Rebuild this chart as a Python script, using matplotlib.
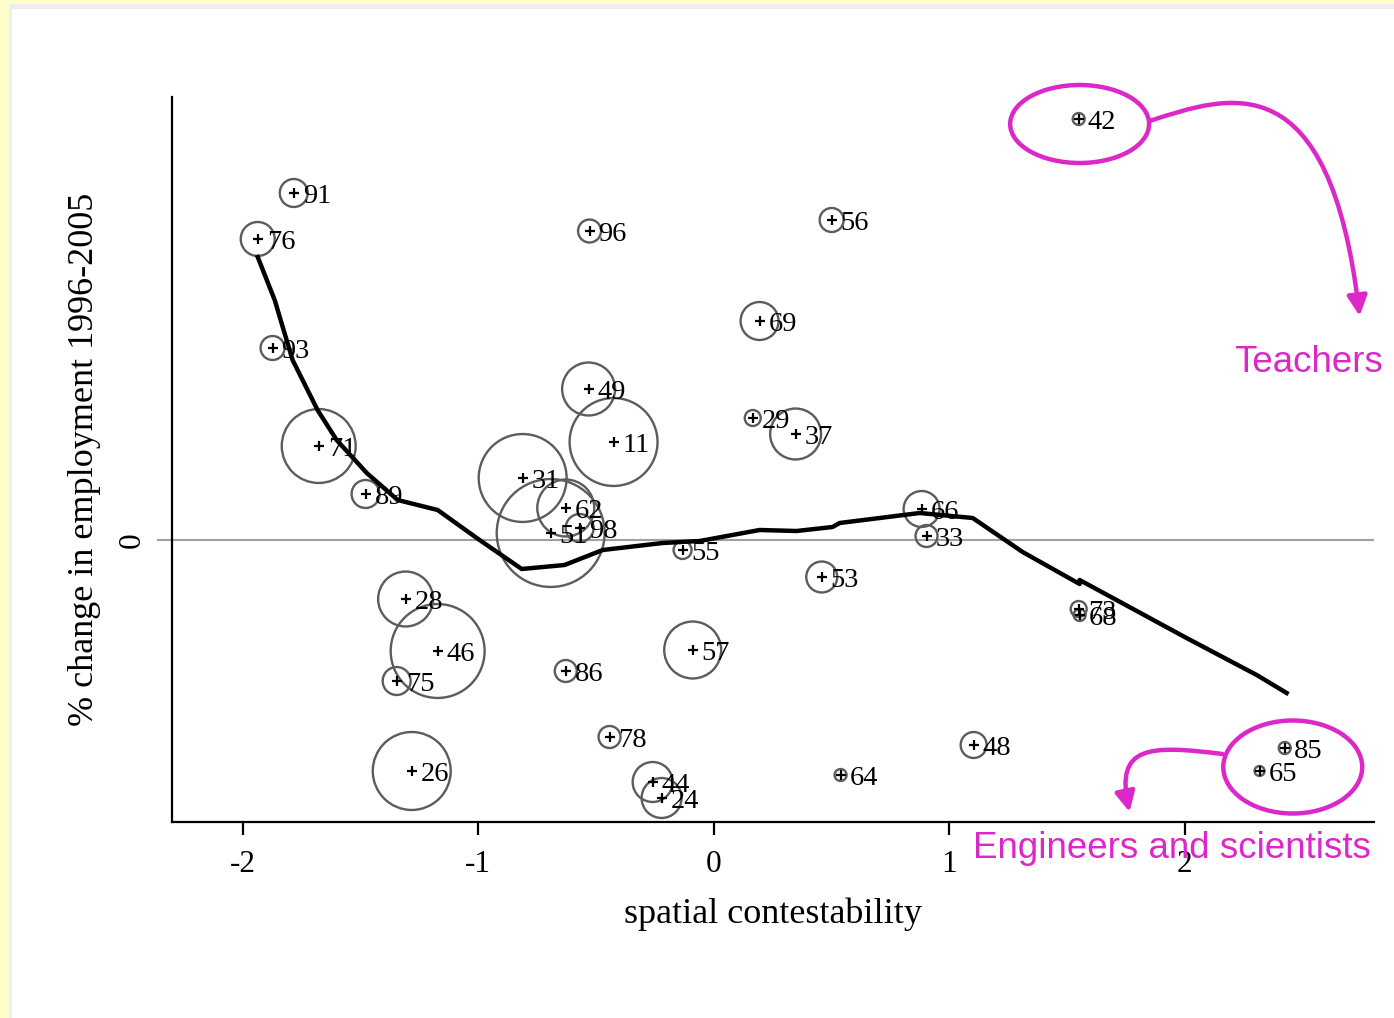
import numpy as np
import matplotlib.pyplot as plt
from matplotlib.patches import Ellipse, Rectangle, FancyArrowPatch
from matplotlib.path import Path

# occupation codes, spatial contestability, % change in employment, employment weight
codes = ['91', '76', '93', '71', '89', '96', '69', '49', '11', '31', '62', '98',
         '51', '55', '29', '37', '56', '66', '33', '42', '53', '57', '86', '78',
         '44', '24', '64', '48', '28', '46', '75', '26', '73', '68', '85', '65']
contest = [-1.783, -1.936, -1.873, -1.677, -1.478, -0.527, 0.195, -0.531, -0.425,
           -0.811, -0.628, -0.569, -0.692, -0.132, 0.166, 0.348, 0.501, 0.883,
           0.904, 1.550, 0.459, -0.089, -0.628, -0.442, -0.259, -0.221, 0.539,
           1.104, -1.308, -1.172, -1.346, -1.282, 1.550, 1.554, 2.425, 2.318]
change = [86.75, 75.25, 48.0, 23.5, 11.5, 77.25, 54.75, 37.75, 24.5, 15.5, 8.0,
          3.0, 1.75, -2.5, 30.5, 26.5, 80.0, 7.75, 1.0, 105.25, -9.25, -27.5,
          -32.75, -49.25, -60.5, -64.5, -58.75, -51.25, -14.75, -27.75, -35.25,
          -57.75, -17.25, -18.75, -52.0, -57.75]
weight = [19.6, 28.9, 14.4, 136.9, 19.6, 13.2, 36.1, 70.2, 193.6, 193.6, 81.2,
          19.6, 291.6, 8.1, 6.4, 65.0, 14.4, 32.4, 12.1, 3.6, 24.0, 81.2, 12.1,
          12.1, 40.0, 40.0, 3.6, 16.9, 75.6, 220.9, 19.6, 152.1, 6.4, 3.6, 3.6, 2.5]

# lowess smooth
fit_x = [-1.936, -1.864, -1.788, -1.682, -1.601, -1.473, -1.342, -1.172, -0.994,
         -0.815, -0.633, -0.471, -0.217, -0.059, 0.195, 0.352, 0.505, 0.535,
         0.875, 1.100, 1.312, 1.554, 1.554, 2.008, 2.306, 2.433]
fit_y = [70.75, 60.0, 45.0, 32.5, 25.0, 16.75, 10.0, 7.5, 0.0, -7.25, -6.25,
         -2.5, -0.75, -0.25, 2.5, 2.25, 3.25, 4.25, 6.75, 5.5, -3.0, -11.0,
         -10.0, -24.5, -33.75, -38.25]

xticks = [-2, -1, 0, 1, 2]
xtick_labels = ['-2', '-1', '0', '1', '2']

serif = 'Liberation Serif'
sans = 'Liberation Sans'
pink = '#dc28c8'

fig = plt.figure(figsize=(13.94, 10.18), dpi=100, facecolor='#ffffcc')
# slide frame
fig.patches.append(Rectangle((9 / 1394, 0), 1, 1 - 4 / 1018, transform=fig.transFigure,
                             facecolor='#eeeeee', edgecolor='none', zorder=-2))
fig.patches.append(Rectangle((12 / 1394, 0), 1, 1 - 9 / 1018, transform=fig.transFigure,
                             facecolor='white', edgecolor='none', zorder=-1))

ax = fig.add_axes([172 / 1394, 1 - 822 / 1018, 1202 / 1394, 725 / 1018])
ax.set_facecolor('none')
ax.set_xlim(-2.30, 2.804)
ax.set_ylim(-70.5, 110.75)

ax.axhline(0, color='#a0a0a0', lw=1.5, zorder=1)

ax.scatter(contest, change, s=np.array(weight) * 20.7, facecolors='none',
           edgecolors='#5c5c5c', linewidths=1.7, zorder=2)
ax.scatter(contest, change, s=45, marker='+', color='black', linewidths=1.6, zorder=3)
for c, xv, yv in zip(codes, contest, change):
    ax.annotate(c, (xv, yv), xytext=(6.5, -7.3), textcoords='offset points',
                ha='left', va='baseline', fontsize=20.5, family=serif, zorder=4)

ax.plot(fit_x, fit_y, color='black', lw=3.2, zorder=3, solid_joinstyle='round')

for s in ['top', 'right']:
    ax.spines[s].set_visible(False)
for s in ['left', 'bottom']:
    ax.spines[s].set_linewidth(1.6)

ax.set_xticks(xticks)
ax.set_xticklabels(xtick_labels, family=serif, fontsize=22.5)
ax.set_yticks([0])
ax.set_yticklabels(['0'], family=serif, fontsize=22.5, rotation=90, va='center')
ax.tick_params(axis='x', length=9, width=1.6, pad=11)
ax.tick_params(axis='y', length=11, width=1.5, color='#a0a0a0', pad=7)

ax.set_xlabel('spatial contestability', family=serif, fontsize=26)
ax.set_ylabel('% change in employment 1996-2005', family=serif, fontsize=26)
ax.xaxis.set_label_coords(0.5, -0.104)
ax.yaxis.set_label_coords(-0.059, 0.5)

# annotations
ax.add_patch(Ellipse((1.554, 104.0), 0.590, 19.5, fill=False, edgecolor=pink,
                     lw=3.2, clip_on=False, zorder=5))
ax.add_patch(Ellipse((2.459, -56.75), 0.590, 23.25, fill=False, edgecolor=pink,
                     lw=3.2, clip_on=False, zorder=5))

teach_path = Path([(1.851, 104.75), (2.191, 111.25), (2.616, 120.0), (2.743, 56.0)],
                  [Path.MOVETO, Path.CURVE4, Path.CURVE4, Path.CURVE4])
eng_path = Path([(2.161, -53.5), (1.851, -51.25), (1.703, -51.25), (1.766, -68.0)],
                [Path.MOVETO, Path.CURVE4, Path.CURVE4, Path.CURVE4])
for p in [teach_path, eng_path]:
    arr = FancyArrowPatch(path=p, arrowstyle='-|>,head_length=12,head_width=6',
                          color=pink, lw=3.2, clip_on=False, zorder=5,
                          shrinkA=0, shrinkB=0)
    ax.add_patch(arr)

ax.text(2.841, 44.5, 'Teachers', color=pink, family=sans, fontsize=26.5,
        ha='right', va='center')
ax.text(1.100, -77.0, 'Engineers and scientists', color=pink, family=sans,
        fontsize=26.5, ha='left', va='center', clip_on=False, zorder=6)

fig.savefig('out.png', dpi=100, facecolor=fig.get_facecolor())
